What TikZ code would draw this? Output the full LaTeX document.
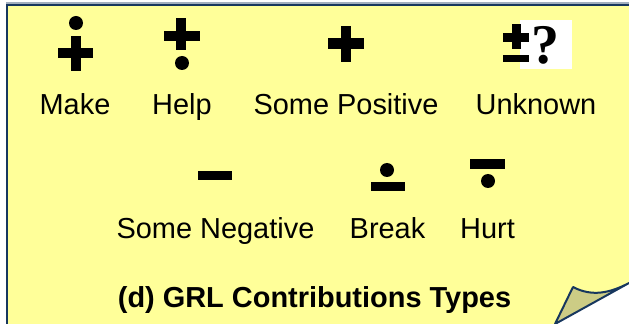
\documentclass[tikz,border=0pt]{standalone}
\usepackage{fontspec}
\setmainfont{Liberation Sans}
\newfontfamily\qfont{Liberation Serif}
\usepackage{xcolor}
\usepackage{tikz}
\usetikzlibrary{positioning}
\definecolor{notefill}{HTML}{FFFF99}
\definecolor{noteedge}{HTML}{17375E}
\definecolor{foldfill}{HTML}{CCCC85}

\begin{document}
\begin{tikzpicture}[x=0.75pt,y=-0.75pt,
    lbl/.style={anchor=base, inner sep=0pt, font=\fontsize{21.7}{26}\selectfont},
    ttl/.style={anchor=base, inner sep=0pt, font=\fontsize{21.7}{26}\selectfont\bfseries},
    sym/.style={fill=black}]
  \useasboundingbox (0,0) rectangle (629,324);

  % --- Note sheet with folded corner ---
  \fill[notefill] (7,5) -- (629,5) -- (629,283) -- (555,324) -- (7,324) -- cycle;
  \draw[noteedge!40, line width=0.8pt] (6,3) -- (629,3);
  \draw[noteedge, line width=1.6pt] (7,324) -- (7,5) -- (629,5);
  \draw[noteedge, line width=1.5pt, fill=foldfill, line join=round]
    (555,324) -- (573,287) .. controls (592,297) and (610,293) .. (629,283) -- cycle;

  % --- First row ---
  % Make: dot above plus
  \fill[sym] (76,23) circle (7);
  \fill[sym] (71,36) rectangle (81,71);
  \fill[sym] (58,48) rectangle (93,58);
  \node[lbl] (make) at (75,115) {Make};

  % Help: plus above dot
  \fill[sym] (176,18) rectangle (186,50);
  \fill[sym] (164,31) rectangle (200,41);
  \fill[sym] (182,63) circle (7);
  \node[lbl] (help) at (182,115) {Help};

  % Some Positive: plain plus
  \fill[sym] (341,26) rectangle (351,62);
  \fill[sym] (328,38) rectangle (364,49);
  \node[lbl] (somepos) at (346,115) {Some Positive};

  % Unknown: plus-minus with a question mark
  \fill[white] (520,20) rectangle (572,69);
  \fill[sym] (511.5,24) rectangle (520.5,49);
  \fill[sym] (503,33) rectangle (529,42);
  \fill[sym] (503,55) rectangle (529,62);
  \node[anchor=base, inner sep=0pt, font=\fontsize{42}{42}\qfont\bfseries] (quest) at (545,64) {?};
  \node[lbl] (unknown) at (536,115) {Unknown};

  % --- Second row ---
  % Some Negative: plain minus
  \fill[sym] (198,171) rectangle (232,180);
  \node[lbl] (someneg) at (215.5,239) {Some Negative};

  % Break: dot above minus
  \fill[sym] (387,170) circle (7);
  \fill[sym] (371,182) rectangle (405,191);
  \node[lbl] (break) at (387.5,239) {Break};

  % Hurt: minus above dot
  \fill[sym] (470,159) rectangle (505,169);
  \fill[sym] (488,181) circle (7);
  \node[lbl] (hurt) at (487.5,239) {Hurt};

  % Caption
  \node[ttl] (title) at (314.5,307) {(d) GRL Contributions Types};
\end{tikzpicture}
\end{document}
